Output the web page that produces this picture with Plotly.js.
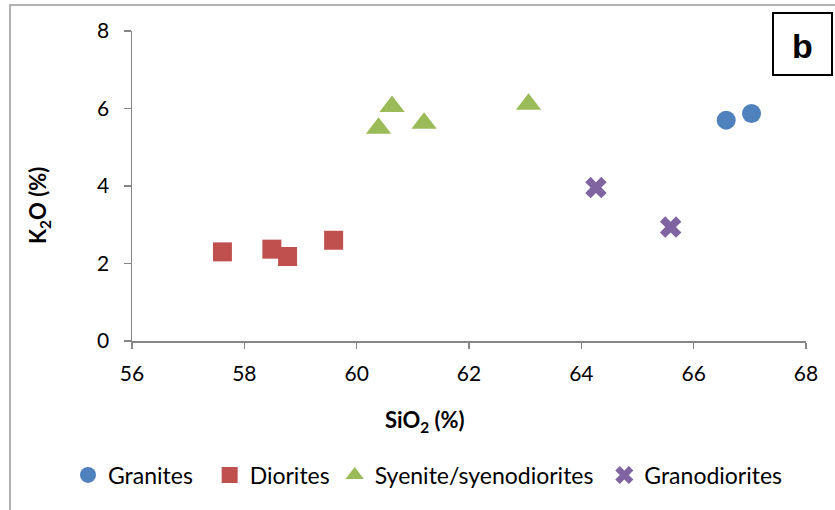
<!DOCTYPE html>
<html>
<head>
<meta charset="utf-8">
<script src="https://cdn.plot.ly/plotly-3.0.1.min.js"></script>
<style>html,body{margin:0;padding:0;background:#fff;}#chart{width:835px;height:510px;}</style>
</head>
<body>
<div id="chart"></div>
<script>
// Data
const granitesSiO2 = [66.58, 67.03];
const granitesK2O  = [5.70, 5.87];
const dioritesSiO2 = [57.61, 58.49, 58.77, 59.59];
const dioritesK2O  = [2.30, 2.37, 2.18, 2.60];
const syeniteSiO2  = [60.39, 60.63, 61.20, 63.06];
const syeniteK2O   = [5.49, 6.05, 5.62, 6.11];
const granodSiO2   = [64.26, 65.59];
const granodK2O    = [3.96, 2.94];
const seriesNames  = ["Granites", "Diorites", "Syenite/syenodiorites", "Granodiorites"];
const xTicks = [56, 58, 60, 62, 64, 66, 68];
const yTicks = [0, 2, 4, 6, 8];

const FONT = "Lato, 'Open Sans', sans-serif";
const L = 132, R = 806, T = 31, B = 341;
const W = 835, H = 510;
const px = x => (x - L) / (R - L);
const py = y => (B - y) / (B - T);
const pad = (s, n) => s + "\u00A0".repeat(n);

const traces = [
  {x: granitesSiO2, y: granitesK2O, name: pad(seriesNames[0], 2), type: "scatter", mode: "markers",
   marker: {symbol: "circle", size: 19, color: "#4F81BD", line: {width: 0}}},
  {x: dioritesSiO2, y: dioritesK2O, name: seriesNames[1], type: "scatter", mode: "markers",
   marker: {symbol: "square", size: 19, color: "#C0504D", line: {width: 0}}},
  {x: syeniteSiO2, y: syeniteK2O, name: pad(seriesNames[2], 1), type: "scatter", mode: "markers",
   marker: {symbol: "triangle-up", size: 22, color: "#9BBB59", line: {width: 0}}},
  {x: granodSiO2, y: granodK2O, name: seriesNames[3], type: "scatter", mode: "markers",
   marker: {symbol: "x", size: 19, color: "#8064A2", line: {width: 0}}}
];

const layout = {
  width: W, height: H,
  margin: {l: L, r: W - R, t: T, b: H - B, pad: 0},
  paper_bgcolor: "#ffffff", plot_bgcolor: "#ffffff",
  font: {family: FONT, size: 21, color: "#000000"},
  showlegend: true,
  legend: {orientation: "h", x: px(68), xanchor: "left", y: py(475), yanchor: "middle",
           font: {family: FONT, size: 23, color: "#000"}, bgcolor: "rgba(0,0,0,0)", borderwidth: 0,
           itemclick: false, itemdoubleclick: false},
  xaxis: {range: [56, 68], tickvals: xTicks, ticktext: xTicks.map(String),
          showgrid: false, zeroline: false, showline: true, linecolor: "#868686", linewidth: 1.5,
          ticks: "outside", ticklen: 6, tickwidth: 1.5, tickcolor: "#868686",
          tickfont: {family: FONT, size: 21, color: "#000"}, ticklabelstandoff: 7, fixedrange: true},
  yaxis: {range: [0, 8], tickvals: yTicks, ticktext: yTicks.map(String),
          showgrid: false, zeroline: false, showline: true, linecolor: "#868686", linewidth: 1.5,
          ticks: "outside", ticklen: 7, tickwidth: 1.5, tickcolor: "#868686",
          tickfont: {family: FONT, size: 21, color: "#000"}, ticklabelstandoff: 10, fixedrange: true},
  shapes: [
    {type: "rect", xref: "paper", yref: "paper", x0: px(10), x1: px(845), y0: py(5), y1: py(520),
     line: {color: "#9a9a9a", width: 1.5}, fillcolor: "rgba(0,0,0,0)", layer: "below"},
    {type: "rect", xref: "paper", yref: "paper", x0: px(773), x1: px(832), y0: py(13), y1: py(75),
     line: {color: "#000000", width: 2}, fillcolor: "#ffffff"}
  ],
  annotations: [
    {text: "b", xref: "paper", yref: "paper", x: px(802.5), y: py(46), xanchor: "center", yanchor: "middle",
     showarrow: false, font: {family: "'Liberation Sans', Arial, sans-serif", size: 34, color: "#000", weight: "bold"}},
    {text: "SiO<sub>2</sub> (%)", xref: "paper", yref: "paper", x: px(425), y: py(421), xanchor: "center", yanchor: "middle",
     showarrow: false, font: {family: FONT, size: 22, color: "#000", weight: "bold"}},
    {text: "K<sub>2</sub>O (%)", xref: "paper", yref: "paper", x: px(39), y: py(206), xanchor: "center", yanchor: "middle",
     textangle: -90, showarrow: false, font: {family: FONT, size: 22, color: "#000", weight: "bold"}}
  ]
};

Plotly.newPlot("chart", traces, layout, {displayModeBar: false, staticPlot: true});
</script>
</body>
</html>
